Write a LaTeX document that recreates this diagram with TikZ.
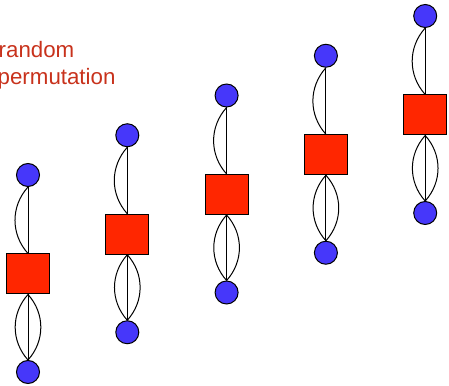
\documentclass[tikz,border=0pt]{standalone}
\usepackage{fontspec}
\setmainfont{Liberation Sans}
\definecolor{vertexblue}{RGB}{70,55,250}
\definecolor{factorred}{RGB}{255,38,0}
\definecolor{labelred}{RGB}{200,50,28}
\begin{document}
\begin{tikzpicture}[x=1pt,y=1pt,
  vertex/.style={circle,draw=black,line width=1pt,fill=vertexblue,minimum size=23pt,inner sep=0pt},
  factor/.style={rectangle,draw=black,line width=1pt,fill=factorred,minimum width=43pt,minimum height=40pt,inner sep=0pt},
  link/.style={draw=black,line width=1pt},
  label/.style={anchor=base west,inner sep=0pt,text=labelred,font=\fontsize{22.3}{27}\selectfont}]
\useasboundingbox (0,0) rectangle (449,385);
\node[label] (title1) at (-1.5,327) {random};
\node[label] (title2) at (-2.5,300) {permutation};
\foreach \i in {0,...,4}{
  \pgfmathsetmacro{\cx}{28+99.3*\i}
  \pgfmathsetmacro{\dy}{39.75*\i}
  \node[vertex] (top\i) at (\cx,210+\dy) {};
  \node[factor] (sq\i) at (\cx,111+\dy) {};
  \node[vertex] (bot\i) at (\cx,13+\dy) {};
  % upper pair of edges: straight one and one bent to the left
  \draw[link] (top\i.south) -- (sq\i.north);
  \draw[link] (top\i.south) to[bend right=42] (sq\i.north);
  % lower triple of edges
  \draw[link] (sq\i.south) -- (bot\i.north);
  \draw[link] (sq\i.south) to[bend right=42] (bot\i.north);
  \draw[link] (sq\i.south) to[bend left=42] (bot\i.north);
}
\end{tikzpicture}
\end{document}
